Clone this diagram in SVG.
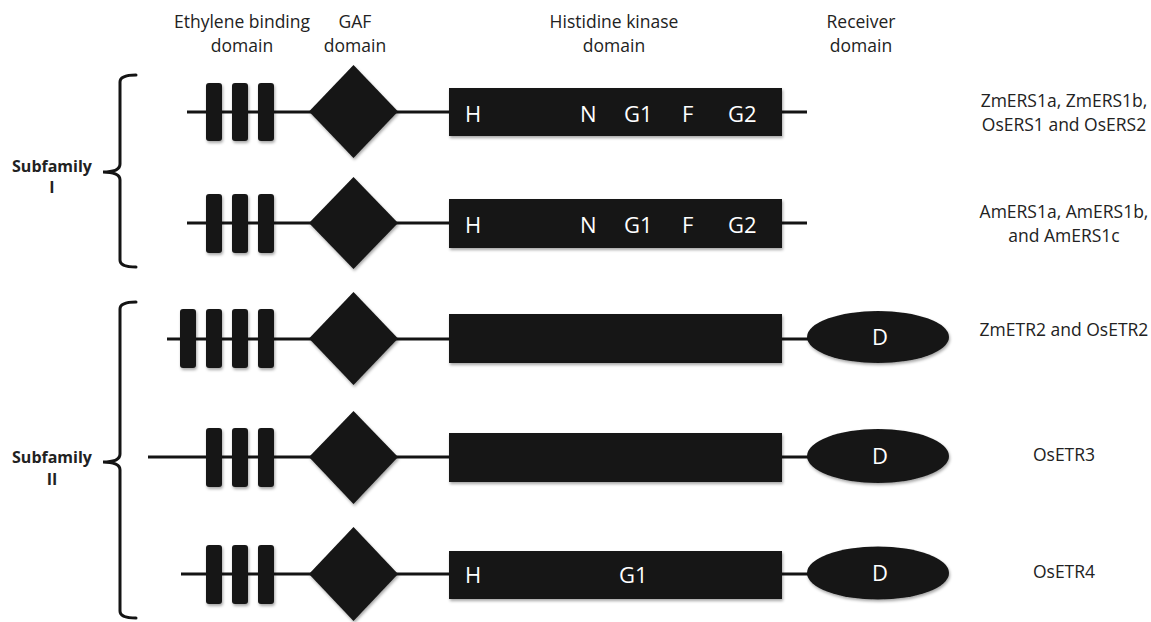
<svg xmlns="http://www.w3.org/2000/svg" width="1151" height="622" viewBox="0 0 1151 622">
<defs>
<filter id="sh" x="-10%" y="-10%" width="130%" height="130%">
<feDropShadow dx="1" dy="2" stdDeviation="1.5" flood-color="#000" flood-opacity="0.35"/>
</filter>
<style>
.bg{fill:#ffffff}
.ln{stroke:#141414;stroke-width:3;fill:none}
.tm{fill:#141414;filter:url(#sh)}
.hd{font-family:"Open Sans",sans-serif;font-size:17.5px;fill:#222;text-anchor:middle}
.lb{font-family:"Open Sans",sans-serif;font-size:17.5px;fill:#222;text-anchor:middle}
.sf{font-family:"Open Sans",sans-serif;font-size:16px;font-weight:bold;fill:#222;text-anchor:middle}
.wt{font-family:"Open Sans",sans-serif;font-size:22px;fill:#ffffff}
.br{stroke:#141414;stroke-width:3;fill:none;stroke-linecap:round}
</style>
</defs>
<rect class="bg" x="0" y="0" width="1151" height="622"/>

<g id="headers">
<text class="hd" x="242" y="28">Ethylene binding</text>
<text class="hd" x="242" y="52">domain</text>
<text class="hd" x="355" y="28">GAF</text>
<text class="hd" x="355" y="52">domain</text>
<text class="hd" x="614" y="28">Histidine kinase</text>
<text class="hd" x="614" y="52">domain</text>
<text class="hd" x="861" y="28">Receiver</text>
<text class="hd" x="861" y="52">domain</text>
</g>

<g id="connectors">
<line class="ln" x1="187" y1="112" x2="807" y2="112"/>
<line class="ln" x1="187" y1="223" x2="807" y2="223"/>
<line class="ln" x1="167" y1="339" x2="810" y2="339"/>
<line class="ln" x1="148" y1="457" x2="810" y2="457"/>
<line class="ln" x1="181" y1="574" x2="810" y2="574"/>
</g>

<g id="subfamily1">
<path class="br" d="M136,75 Q120,75 120,82 L120,164 Q120,172 103,172 Q120,172 120,180 L120,260 Q120,267 136,267"/>
<text class="sf" x="52" y="172">Subfamily</text>
<text class="sf" x="52" y="193">I</text>
</g>

<g id="subfamily2">
<path class="br" d="M136,302 Q120,302 120,309 L120,454 Q120,462 103,462 Q120,462 120,470 L120,611 Q120,618 136,618"/>
<text class="sf" x="52" y="463">Subfamily</text>
<text class="sf" x="52" y="485">II</text>
</g>

<g id="row1">
<rect class="tm" x="206" y="83" width="16" height="58" rx="3"/>
<rect class="tm" x="232" y="83" width="16" height="58" rx="3"/>
<rect class="tm" x="258" y="83" width="16" height="58" rx="3"/>
<polygon class="tm" points="353.5,65 398,111.5 353.5,158 309,111.5"/>
<rect class="tm" x="449" y="88" width="333" height="48"/>
<text class="wt" x="465" y="122">H</text>
<text class="wt" x="580" y="122">N</text>
<text class="wt" x="624" y="122">G1</text>
<text class="wt" x="682" y="122">F</text>
<text class="wt" x="728" y="122">G2</text>
<text class="lb" x="1064" y="107">ZmERS1a, ZmERS1b,</text>
<text class="lb" x="1064" y="131">OsERS1 and OsERS2</text>
</g>

<g id="row2">
<rect class="tm" x="206" y="194" width="16" height="59" rx="3"/>
<rect class="tm" x="232" y="194" width="16" height="59" rx="3"/>
<rect class="tm" x="258" y="194" width="16" height="59" rx="3"/>
<polygon class="tm" points="353.5,177 398,223 353.5,269 309,223"/>
<rect class="tm" x="449" y="199" width="333" height="49"/>
<text class="wt" x="465" y="233">H</text>
<text class="wt" x="580" y="233">N</text>
<text class="wt" x="624" y="233">G1</text>
<text class="wt" x="682" y="233">F</text>
<text class="wt" x="728" y="233">G2</text>
<text class="lb" x="1064" y="218">AmERS1a, AmERS1b,</text>
<text class="lb" x="1064" y="242">and AmERS1c</text>
</g>

<g id="row3">
<rect class="tm" x="180" y="309" width="16" height="59" rx="3"/>
<rect class="tm" x="206" y="309" width="16" height="59" rx="3"/>
<rect class="tm" x="232" y="309" width="16" height="59" rx="3"/>
<rect class="tm" x="258" y="309" width="16" height="59" rx="3"/>
<polygon class="tm" points="353.5,292 398,338.5 353.5,385 309,338.5"/>
<rect class="tm" x="449" y="314" width="333" height="49"/>
<ellipse class="tm" cx="878" cy="337" rx="71" ry="26"/>
<text class="wt" x="880" y="345" text-anchor="middle">D</text>
<text class="lb" x="1064" y="336">ZmETR2 and OsETR2</text>
</g>

<g id="row4">
<rect class="tm" x="206" y="428" width="16" height="59" rx="3"/>
<rect class="tm" x="232" y="428" width="16" height="59" rx="3"/>
<rect class="tm" x="258" y="428" width="16" height="59" rx="3"/>
<polygon class="tm" points="353.5,411 398,457 353.5,504 309,457"/>
<rect class="tm" x="449" y="433" width="333" height="49"/>
<ellipse class="tm" cx="878" cy="456" rx="71" ry="27"/>
<text class="wt" x="880" y="464" text-anchor="middle">D</text>
<text class="lb" x="1064" y="461">OsETR3</text>
</g>

<g id="row5">
<rect class="tm" x="206" y="545" width="16" height="59" rx="3"/>
<rect class="tm" x="232" y="545" width="16" height="59" rx="3"/>
<rect class="tm" x="258" y="545" width="16" height="59" rx="3"/>
<polygon class="tm" points="353.5,527 398,574 353.5,621 309,574"/>
<rect class="tm" x="449" y="551" width="333" height="48"/>
<text class="wt" x="465" y="583">H</text>
<text class="wt" x="619" y="583">G1</text>
<ellipse class="tm" cx="878" cy="573" rx="71" ry="26.5"/>
<text class="wt" x="880" y="581" text-anchor="middle">D</text>
<text class="lb" x="1064" y="578">OsETR4</text>
</g>
</svg>
